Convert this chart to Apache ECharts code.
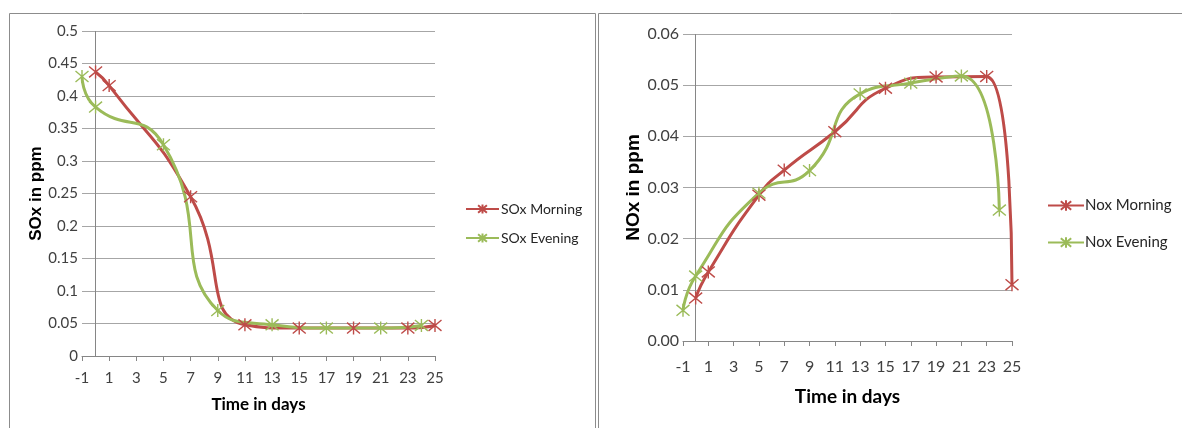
<!DOCTYPE html>
<html>
<head>
<meta charset="utf-8">
<script src="https://cdn.jsdelivr.net/npm/echarts@6/dist/echarts.min.js"></script>
<style>
html,body{margin:0;padding:0;background:#fff;}
#c{width:1182px;height:428px;}
</style>
</head>
<body>
<div id="c"></div>
<script>
// ---- data ----
var xTicks = [-1, 1, 3, 5, 7, 9, 11, 13, 15, 17, 19, 21, 23, 25];
var soxDaysMorning = [0, 1, 7, 11, 15, 19, 23, 25];
var soxMorning     = [0.437, 0.416, 0.245, 0.048, 0.043, 0.043, 0.043, 0.047];
var soxDaysEvening = [-1, 0, 5, 9, 13, 17, 21, 24];
var soxEvening     = [0.430, 0.383, 0.325, 0.070, 0.048, 0.043, 0.043, 0.047];
var noxDaysMorning = [0, 1, 5, 7, 11, 15, 19, 23, 25];
var noxMorning     = [0.0084, 0.0135, 0.0285, 0.0334, 0.0409, 0.0494, 0.0516, 0.0517, 0.0110];
var noxDaysEvening = [-1, 0, 5, 9, 13, 17, 21, 24];
var noxEvening     = [0.0060, 0.0127, 0.0289, 0.0333, 0.0483, 0.0504, 0.0518, 0.0256];

function pairs(xs, ys){ return xs.map(function(x,i){ return [x, ys[i]]; }); }

var RED = '#BE4B48', GREEN = '#9BBB59', AXIS = '#868686', GRIDC = '#a6a6a6';
var FONT = 'Lato';
var NAMEFONT = 'Liberation Sans';
var STAR = 'path://M0,0L10,10M10,0L0,10M5,-1L5,11';

function xAxisCfg(idx, fs, margin, nameGap, nameFs){
  return {
    type:'value', gridIndex:idx, min:-1, max:25, interval:2,
    name:'Time in days', nameLocation:'middle', nameGap:nameGap,
    nameTextStyle:{fontFamily:FONT, fontSize:nameFs, fontWeight:'bold', color:'#000'},
    axisLine:{show:true, onZero:false, lineStyle:{color:AXIS, width:1}},
    axisTick:{show:true, length:5, lineStyle:{color:AXIS}},
    axisLabel:{fontFamily:FONT, fontSize:fs, color:'#404040', margin:margin},
    splitLine:{show:false}
  };
}
function yAxisCfg(idx, max, interval, name, fs, nameGap, nameFs, fmt){
  return {
    type:'value', gridIndex:idx, min:0, max:max, interval:interval,
    name:name, nameLocation:'middle', nameGap:nameGap, nameRotate:90,
    nameTextStyle:{fontFamily:NAMEFONT, fontSize:nameFs, fontWeight:'bold', color:'#000'},
    axisLine:{show:false}, axisTick:{show:false},
    axisLabel:{fontFamily:FONT, fontSize:fs, color:'#404040', margin:4, formatter:fmt},
    splitLine:{show:true, lineStyle:{color:GRIDC, width:1}}
  };
}
function lineSeries(name, data, color, xi, withZeroLine){
  var s = {
    name:name, type:'line', xAxisIndex:xi, yAxisIndex:xi, data:data,
    smooth:0.55, symbol:STAR, symbolSize:13, showAllSymbol:true,
    lineStyle:{color:color, width:3},
    itemStyle:{color:color, borderColor:color, borderWidth:1.4},
    z:3
  };
  if (withZeroLine){
    s.markLine = {silent:true, symbol:'none', label:{show:false},
      lineStyle:{color:AXIS, width:1, type:'solid'}, data:[{xAxis:0}], z:1};
  }
  return s;
}

var chart = echarts.init(document.getElementById('c'), null, {renderer:'canvas'});
chart.setOption({
  backgroundColor:'#fff',
  animation:false,
  graphic:[
    {type:'rect', shape:{x:9.5, y:13.5, width:586, height:430}, style:{fill:'none', stroke:'#8c8c8c', lineWidth:1}, z:-10},
    {type:'rect', shape:{x:598.5, y:13.5, width:600, height:430}, style:{fill:'none', stroke:'#8c8c8c', lineWidth:1}, z:-10}
  ],
  grid:[
    {left:82, top:31, width:353, height:325},
    {left:683, top:34, width:329, height:307}
  ],
  xAxis:[ xAxisCfg(0, 15, 15, 40, 17), xAxisCfg(1, 16, 18, 46, 19) ],
  yAxis:[
    yAxisCfg(0, 0.5, 0.05, 'SOx in ppm', 15, 32, 17, null),
    yAxisCfg(1, 0.06, 0.01, 'NOx in ppm', 16, 38, 19, function(v){ return v.toFixed(2); })
  ],
  legend:[
    {orient:'vertical', left:465, top:202, padding:0, itemWidth:33, itemHeight:11, itemGap:15,
     textStyle:{fontFamily:FONT, fontSize:14, color:'#262626', padding:[0,0,0,-3]},
     data:['SOx Morning','SOx Evening']},
    {orient:'vertical', left:1047, top:198, padding:0, itemWidth:36, itemHeight:13, itemGap:22,
     textStyle:{fontFamily:FONT, fontSize:15, color:'#262626', padding:[0,0,0,-4]},
     data:['Nox Morning','Nox Evening']}
  ],
  series:[
    lineSeries('SOx Morning', pairs(soxDaysMorning, soxMorning), RED, 0, true),
    lineSeries('SOx Evening', pairs(soxDaysEvening, soxEvening), GREEN, 0, false),
    lineSeries('Nox Morning', pairs(noxDaysMorning, noxMorning), RED, 1, true),
    lineSeries('Nox Evening', pairs(noxDaysEvening, noxEvening), GREEN, 1, false)
  ]
});
</script>
</body>
</html>
